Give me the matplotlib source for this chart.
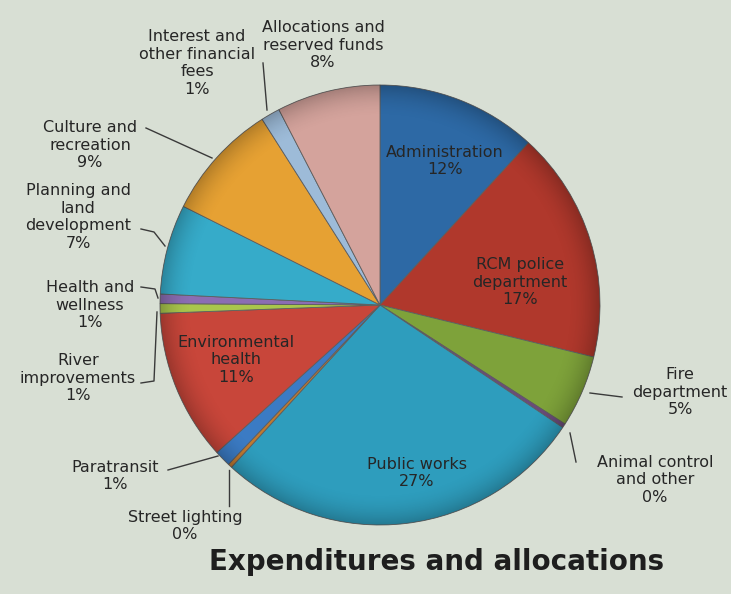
import numpy as np
import matplotlib.pyplot as plt

# slice data, clockwise from 12 o'clock
categories = ['Administration', 'RCM police\ndepartment', 'Fire\ndepartment', 'Animal control\nand other',
              'Public works', 'Street lighting', 'Paratransit', 'Environmental\nhealth',
              'River\nimprovements', 'Health and\nwellness', 'Planning and\nland\ndevelopment',
              'Culture and\nrecreation', 'Interest and\nother financial\nfees', 'Allocations and\nreserved funds']
values = [11.8, 17.0, 5.3, 0.3, 27.4, 0.3, 1.2, 11.1, 0.7, 0.7, 6.6, 8.6, 1.4, 7.6]
colors = ['#2d69a5', '#b0382c', '#7ea23a', '#6b4a7a', '#2e9dbd', '#c07a30', '#3b7bc4', '#c8463a',
          '#a9c64c', '#8b6db3', '#36abc9', '#e6a133', '#9dbbd8', '#d4a39c']

BG = '#d8dfd4'
CX, CY, R = 380, 305, 220  # pie centre / radius in pixels


def px(x, y):
    # pixel position of the reference -> data units (pie radius = 1)
    return (x - CX) / R, (CY - y) / R


fig = plt.figure(figsize=(7.31, 5.94), dpi=100)
fig.patch.set_facecolor(BG)
ax = fig.add_axes([0, 0, 1, 1])
ax.set_facecolor(BG)

wedges, _ = ax.pie(values, colors=colors, startangle=90, counterclock=False, radius=1,
                   wedgeprops=dict(edgecolor='#5e5e5e', linewidth=0.6))

# faint darkening toward the rim, a nod to the bevelled look of the original
g = np.linspace(-1, 1, 300)
gx, gy = np.meshgrid(g, g)
rr = np.sqrt(gx ** 2 + gy ** 2)
shade = np.zeros((300, 300, 4))
shade[..., 3] = np.clip((rr - 0.85) / 0.15, 0, 1) ** 2 * 0.22
im = ax.imshow(shade, extent=(-1, 1, -1, 1), origin='lower', zorder=3, interpolation='bilinear')
im.set_clip_path(plt.Circle((0, 0), 1, transform=ax.transData))

# pie() resets the limits, so set them afterwards
ax.set_xlim(px(0, 0)[0], px(731, 0)[0])
ax.set_ylim(px(0, 594)[1], px(0, 0)[1])
ax.set_aspect('equal')
ax.axis('off')

total = sum(values)
pcts = ['%d%%' % round(v / total * 100) for v in values]

txt = dict(ha='center', va='center', fontsize=11.5, color='#262626', linespacing=1.2, zorder=5)

# labels inside the slices
inside = {0: (445, 161), 1: (520, 282), 4: (417, 473), 7: (236, 360)}
for i, (x, y) in inside.items():
    ax.text(*px(x, y), categories[i] + '\n' + pcts[i], **txt)

# labels outside with leader lines: text centre, leader path (px)
outside = {
    2: ((680, 392), [(622, 397), (590, 393)]),
    3: ((655, 480), [(576, 462), (570, 433)]),
    5: ((185, 526), [(229, 506), (229, 470)]),
    6: ((115, 476), [(168, 470), (218, 456)]),
    8: ((78, 378), [(141, 383), (154, 381), (157, 312)]),
    9: ((90, 305), [(141, 287), (155, 289), (158, 298)]),
    10: ((78, 217), [(141, 229), (154, 232), (165, 246)]),
    11: ((90, 145), [(146, 128), (212, 158)]),
    12: ((197, 63), [(263, 63), (267, 110)]),
    13: ((323, 45), []),
}
for i, ((x, y), path) in outside.items():
    ax.text(*px(x, y), categories[i] + '\n' + pcts[i], **txt)
    if path:
        pts = [px(a, b) for a, b in path]
        ax.plot([p[0] for p in pts], [p[1] for p in pts], color='#3a3a3a', lw=1.0, zorder=4)

ax.text(*px(437, 562), 'Expenditures and allocations', ha='center', va='center',
        fontsize=20, fontweight='bold', color='#1e1e1e')

fig.savefig('out.png', dpi=100, facecolor=BG)
